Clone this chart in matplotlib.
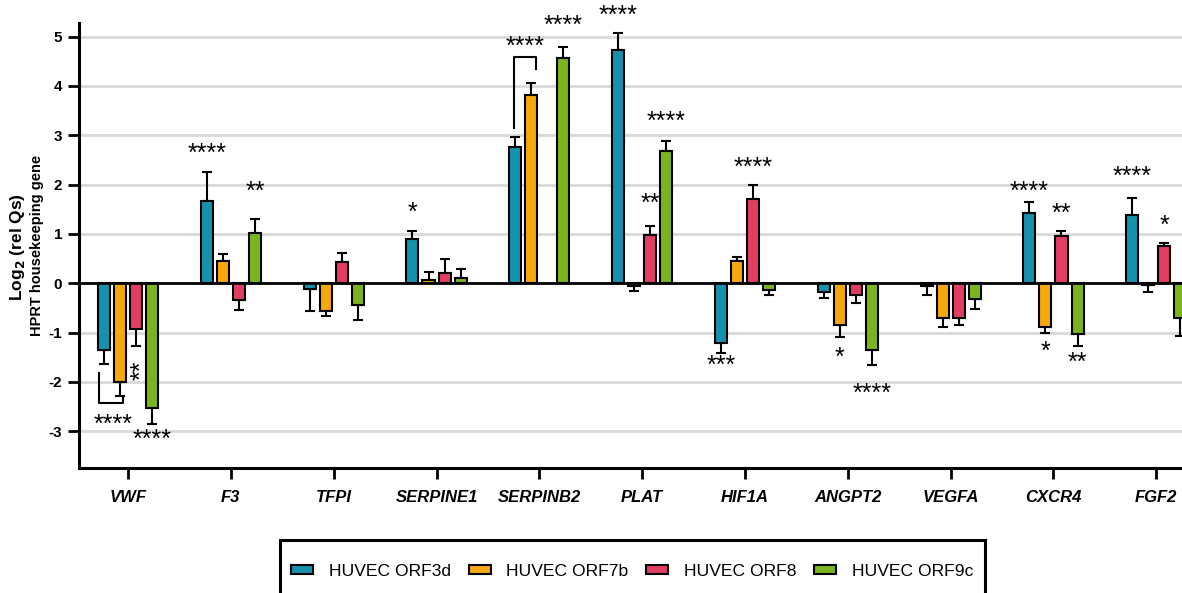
import numpy as np
import matplotlib
matplotlib.use("Agg")
import matplotlib.pyplot as plt
from matplotlib.patches import Patch, Rectangle

plt.rcParams['font.family'] = ['Liberation Sans', 'DejaVu Sans']
plt.rcParams['axes.unicode_minus'] = False

genes = ['VWF', 'F3', 'TFPI', 'SERPINE1', 'SERPINB2', 'PLAT',
         'HIF1A', 'ANGPT2', 'VEGFA', 'CXCR4', 'FGF2']
series = ['HUVEC ORF3d', 'HUVEC ORF7b', 'HUVEC ORF8', 'HUVEC ORF9c']
colors = ['#1591ac', '#f6a80c', '#e23d62', '#7ab51d']

orf3d = [-1.35, 1.66, -0.12, 0.89, 2.77, 4.73, -1.22, -0.17, -0.05, 1.43, 1.38]
orf3d_err = [0.29, 0.59, 0.45, 0.18, 0.20, 0.35, 0.20, 0.12, 0.19, 0.21, 0.35]
orf7b = [-2.01, 0.45, -0.57, 0.07, 3.82, -0.05, 0.46, -0.84, -0.70, -0.88, -0.03]
orf7b_err = [0.27, 0.14, 0.09, 0.16, 0.24, 0.10, 0.07, 0.25, 0.18, 0.13, 0.14]
orf8 = [-0.93, -0.34, 0.43, 0.20, np.nan, 0.97, 1.71, -0.24, -0.71, 0.95, 0.76]
orf8_err = [0.34, 0.20, 0.19, 0.29, np.nan, 0.19, 0.28, 0.15, 0.13, 0.10, 0.06]
orf9c = [-2.53, 1.01, -0.45, 0.11, 4.57, 2.69, -0.135, -1.36, -0.32, -1.03, -0.71]
orf9c_err = [0.33, 0.29, 0.29, 0.17, 0.23, 0.20, 0.105, 0.29, 0.21, 0.24, 0.36]

means = [orf3d, orf7b, orf8, orf9c]
errs = [orf3d_err, orf7b_err, orf8_err, orf9c_err]

# significance stars: (gene index, series index, text, y, rotation)
stars = [
    (0, 2, '**', -1.76, 90), (0, 3, '****', -3.18, 0),
    (1, 0, '****', 2.62, 0), (1, 3, '**', 1.85, 0),
    (3, 0, '*', 1.43, 0),
    (4, 3, '****', 5.22, 0),
    (5, 0, '****', 5.42, 0), (5, 2, '**', 1.61, 0), (5, 3, '****', 3.27, 0),
    (6, 0, '***', -1.68, 0), (6, 2, '****', 2.34, 0),
    (7, 1, '*', -1.51, 0), (7, 3, '****', -2.24, 0),
    (9, 0, '****', 1.85, 0), (9, 1, '*', -1.39, 0), (9, 2, '**', 1.40, 0),
    (9, 3, '**', -1.62, 0),
    (10, 0, '****', 2.15, 0), (10, 2, '*', 1.16, 0),
]

fig = plt.figure(figsize=(11.82, 5.93), dpi=100)
ax = fig.add_axes([79 / 1182, 1 - 468 / 593, 1 - 79 / 1182, (468 - 23) / 593])

x = np.arange(len(genes))
pitch = 0.156
width = 0.117
for k in range(4):
    v = np.array(means[k], dtype=float)
    e = np.array(errs[k], dtype=float)
    pos = x + (k - 1.5) * pitch
    lower = np.where(v < 0, e, 0)
    upper = np.where(v >= 0, e, 0)
    ax.bar(pos, v, width, color=colors[k], edgecolor='black', linewidth=1.5,
           zorder=3)
    ax.errorbar(pos, v, yerr=[lower, upper], fmt='none', ecolor='black',
                elinewidth=1.5, capsize=3.5, capthick=1.5, zorder=2)

for gi, si, txt, yy, rot in stars:
    xx = gi + (si - 1.5) * pitch
    if rot:
        xx += 0.05  # rotated asterisks sit off-centre
    ax.text(xx, yy, txt, ha='center', va='center',
            fontsize=18, rotation=rot, clip_on=False, zorder=5)

# comparison brackets
ax.plot([-0.28, -0.28, -0.05, -0.05], [-1.82, -2.43, -2.43, -2.33],
        color='black', lw=1.5, zorder=4)
ax.text(-0.15, -2.87, '****', ha='center', va='center', fontsize=18)
ax.plot([4 - 0.25, 4 - 0.25, 4 - 0.03, 4 - 0.03], [3.15, 4.59, 4.59, 4.34],
        color='black', lw=1.5, zorder=4)
ax.text(4 - 0.14, 4.79, '****', ha='center', va='center', fontsize=18)

ax.axhline(0, color='black', lw=2, zorder=4)
ax.set_xlim(-0.477, 10.25)
ax.set_ylim(-3.745, 5.277)
ax.set_yticks(range(-3, 6))
ax.yaxis.grid(True, color='#d9d9d9', lw=2, zorder=0)
ax.set_axisbelow(True)
ax.set_xticks(x)
ax.set_xticklabels(genes, fontsize=12, fontweight='bold', fontstyle='italic')
for lab in ax.get_yticklabels():
    lab.set_fontweight('bold')
    lab.set_fontsize(11)
ax.tick_params(axis='both', width=2, length=8, color='black', pad=4)
ax.tick_params(axis='x', pad=8)
for s in ['top', 'right']:
    ax.spines[s].set_visible(False)
for s in ['left', 'bottom']:
    ax.spines[s].set_linewidth(2.2)

fig.text(18 / 1182, 1 - 247 / 593, r'Log$_\mathbf{2}$ (rel Qs)', rotation=90,
         ha='center', va='center', fontsize=12.5, fontweight='bold')
fig.text(37 / 1182, 1 - 245 / 593, 'HPRT housekeeping gene', rotation=90,
         ha='center', va='center', fontsize=10.5, fontweight='bold')

# legend frame drawn by hand (runs off the bottom of the picture)
fig.patches.append(Rectangle((280 / 1182, -0.05), (985 - 280) / 1182,
                             1 - 540 / 593 + 0.05, transform=fig.transFigure,
                             fill=False, edgecolor='black', lw=2.2))
handles = [Patch(facecolor=c, edgecolor='black', linewidth=1.5) for c in colors]
leg = fig.legend(handles, series, loc='center left',
                 bbox_to_anchor=(279 / 1182, 1 - 571 / 593), ncol=4,
                 fontsize=12.6, frameon=False,
                 handlelength=1.27, handleheight=0.45, columnspacing=1.0,
                 handletextpad=0.89, borderpad=0.2)

fig.savefig('out.png', dpi=100)
